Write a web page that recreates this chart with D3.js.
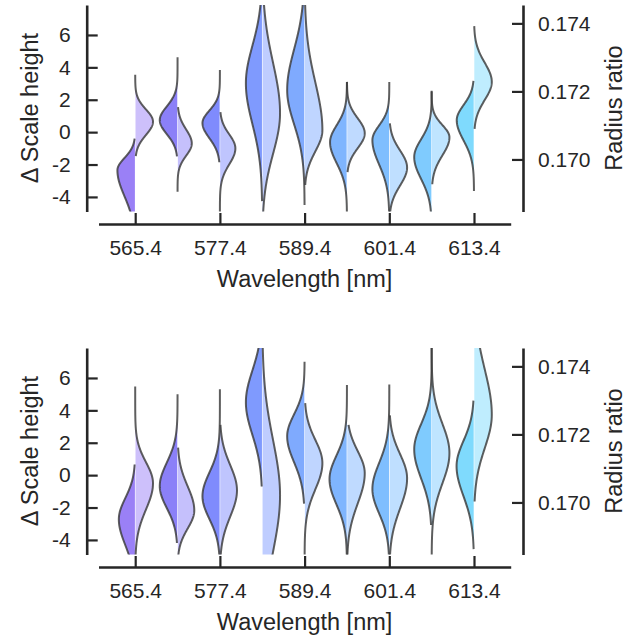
<!DOCTYPE html>
<html>
<head>
<meta charset="utf-8">
<script src="https://cdn.jsdelivr.net/npm/d3@7"></script>
<style>
  body { margin: 0; background: #fff; }
  text { font-family: "Liberation Sans", Arial, sans-serif; fill: #262626; }
</style>
</head>
<body>
<script>
var wavelengths = [565.4, 571.4, 577.4, 583.4, 589.4, 595.4, 601.4, 607.4, 613.4],
    tickWavelengths = [565.4, 577.4, 589.4, 601.4, 613.4],
    scaleTicks = [-4, -2, 0, 2, 4, 6],
    ratioTicks = [0.170, 0.172, 0.174];

// each row: [peak, sd below peak, sd above peak, lowest value, highest value, relative width]
var topScaleHeight = [
  [-2.35, 1.6, 0.75, -5.5, -0.4, 1.0],
  [0.74, 0.86, 0.85, -1.5, 4.63, 1.0],
  [0.56, 0.93, 0.77, -1.86, 3.83, 0.98],
  [3.02, 2.5, 2.3, -4.26, 9, 0.92],
  [2.6, 2.1, 2.5, -4.5, 9, 0.98],
  [-0.62, 1.3, 1.05, -5.5, 3.1, 0.95],
  [-0.49, 1.5, 0.9, -5.5, 3.1, 0.95],
  [-1.54, 1.35, 1.1, -5.5, 2.55, 0.98],
  [0.74, 1.25, 0.93, -3.64, 3.16, 0.97]
];
var topRadiusRatio = [
  [0.17111, 0.00039, 0.00036, 0.17010, 0.17249, 1.0],
  [0.17047, 0.00036, 0.00041, 0.16905, 0.17154, 0.8],
  [0.170326, 0.00047, 0.00041, 0.1684, 0.17139, 0.87],
  [0.171363, 0.0012, 0.00148, 0.1684, 0.1746, 1.0],
  [0.170859, 0.00062, 0.0014, 0.16925, 0.1746, 1.0],
  [0.17077, 0.00044, 0.00044, 0.16963, 0.17228, 1.0],
  [0.169763, 0.00053, 0.0005, 0.1684, 0.17106, 1.0],
  [0.17065, 0.00053, 0.00036, 0.16927, 0.1720, 1.0],
  [0.172281, 0.00053, 0.00056, 0.17090, 0.17392, 1.0]
];
var bottomScaleHeight = [
  [-2.72, 1.6, 1.3, -5.5, 0.66, 0.92],
  [-0.68, 1.35, 1.45, -4.19, 5.0, 1.0],
  [-1.3, 1.4, 1.45, -5.5, 5.3, 0.98],
  [4.5, 2.0, 1.95, -0.7, 9, 0.92],
  [2.4, 1.6, 1.35, -1.76, 7.0, 0.98],
  [-0.25, 1.55, 1.45, -5.5, 5.56, 0.98],
  [-0.86, 1.5, 1.6, -5.5, 5.6, 0.95],
  [1.6, 1.8, 1.55, -3.08, 9, 0.98],
  [0.56, 1.85, 1.55, -4.57, 4.6, 0.98]
];
var bottomRadiusRatio = [
  [0.170563, 0.00077, 0.00062, 0.1684, 0.173407, 1.0],
  [0.169763, 0.00053, 0.00071, 0.1684, 0.17161, 0.94],
  [0.170356, 0.00077, 0.00074, 0.1684, 0.17228, 0.96],
  [0.170207, 0.00166, 0.00163, 0.1684, 0.1746, 1.0],
  [0.171156, 0.00077, 0.00068, 0.1684, 0.17292, 1.0],
  [0.170859, 0.00089, 0.00065, 0.1684, 0.17228, 1.0],
  [0.170711, 0.00089, 0.00071, 0.1684, 0.17256, 1.0],
  [0.171452, 0.00089, 0.00086, 0.1684, 0.1746, 1.0],
  [0.172578, 0.00098, 0.00133, 0.17003, 0.1746, 1.0]
];

var darkColors = ["#9a80f6", "#8b80f8", "#7f8bfd", "#7f9afe", "#7faafe",
                  "#7fb5fe", "#7fbefe", "#7fcbfe", "#7fdafd"];

var panels = [
  {dy: 0, left: topScaleHeight, right: topRadiusRatio},
  {dy: 343, left: bottomScaleHeight, right: bottomRadiusRatio}
];

var svg = d3.select("body").append("svg")
    .attr("width", 643)
    .attr("height", 641);

var plotTop = 5, plotBottom = 211.5;

var x = d3.scaleLinear().domain([560.2, 618.6]).range([98.5, 510.7]);
var step = x(wavelengths[1]) - x(wavelengths[0]);
var halfW = d3.scaleLinear().domain([0, 1]).range([0, 0.42 * step]);
var gap = 0.3;

function halfPoints(row, y) {
  var pk = row[0], sdB = row[1], sdA = row[2], lo = row[3], hi = row[4], amp = row[5];
  return d3.range(0, 201).map(function(i) {
    var v = lo + (hi - lo) * i / 200;
    var s = v < pk ? sdB : sdA;
    return {y: y(v), w: amp * Math.exp(-(v - pk) * (v - pk) / (2 * s * s))};
  });
}

panels.forEach(function(p, pi) {
  var g = svg.append("g").attr("transform", "translate(0," + p.dy + ")");

  var yL = d3.scaleLinear().domain([-4.9, 7.85]).range([plotBottom, plotTop]);
  var yR = d3.scaleLinear().domain([0.16847, 0.17454]).range([plotBottom, plotTop]);

  svg.append("clipPath").attr("id", "clip" + pi)
    .append("rect")
    .attr("x", 80).attr("y", plotTop)
    .attr("width", 450).attr("height", plotBottom - plotTop);

  var vg = g.append("g").attr("clip-path", "url(#clip" + pi + ")");

  wavelengths.forEach(function(wl, i) {
    var cx = x(wl);
    var dark = darkColors[i],
        light = d3.interpolateRgb(dark, "#ffffff")(0.5);
    var halves = [
      {pts: halfPoints(p.left[i], yL), side: -1, fill: dark},
      {pts: halfPoints(p.right[i], yR), side: 1, fill: light}
    ];

    halves.forEach(function(h) {
      var area = d3.area()
        .x0(cx + h.side * gap)
        .x1(function(d) { return cx + h.side * Math.max(halfW(d.w), gap); })
        .y(function(d) { return d.y; });
      vg.append("path")
        .datum(h.pts)
        .attr("d", area)
        .attr("fill", h.fill);
    });

    halves.forEach(function(h) {
      var line = d3.line()
        .x(function(d) { return cx + h.side * halfW(d.w); })
        .y(function(d) { return d.y; });
      vg.append("path")
        .datum(h.pts)
        .attr("d", line)
        .attr("fill", "none")
        .attr("stroke", "#3a3a3a")
        .attr("stroke-opacity", 0.82)
        .attr("stroke-width", 2);
    });
  });

  // axes, ticks pointing inwards
  var axL = g.append("g")
    .attr("transform", "translate(86.7,0)")
    .call(d3.axisLeft(yL).tickValues(scaleTicks)
      .tickSizeInner(-11).tickSizeOuter(0).tickPadding(16)
      .tickFormat(function(d) { return String(d); }));

  var axR = g.append("g")
    .attr("transform", "translate(523,0)")
    .call(d3.axisRight(yR).tickValues(ratioTicks)
      .tickSizeInner(-11).tickSizeOuter(0).tickPadding(15)
      .tickFormat(d3.format(".3f")));

  var axB = g.append("g")
    .attr("transform", "translate(0,224)")
    .call(d3.axisBottom(x).tickValues(tickWavelengths)
      .tickSizeInner(-11).tickSizeOuter(0).tickPadding(16)
      .tickFormat(d3.format(".1f")));

  [axL, axR, axB].forEach(function(a) {
    a.select(".domain").attr("stroke", "#262626").attr("stroke-width", 2.6);
    a.selectAll(".tick line").attr("stroke", "#262626").attr("stroke-width", 2.2);
    a.selectAll(".tick text").style("font-size", "21px").attr("fill", "#262626")
      .style("font-family", "'Liberation Sans', Arial, sans-serif");
  });

  g.append("text")
    .attr("text-anchor", "middle")
    .attr("x", 304.6)
    .attr("y", 287)
    .style("font-size", "23.5px")
    .text("Wavelength [nm]");

  g.append("text")
    .attr("text-anchor", "middle")
    .attr("transform", "translate(38,108) rotate(-90)")
    .style("font-size", "23.5px")
    .text("Δ Scale height");

  g.append("text")
    .attr("text-anchor", "middle")
    .attr("transform", "translate(622,108) rotate(-90)")
    .style("font-size", "23.5px")
    .text("Radius ratio");
});
</script>
</body>
</html>
